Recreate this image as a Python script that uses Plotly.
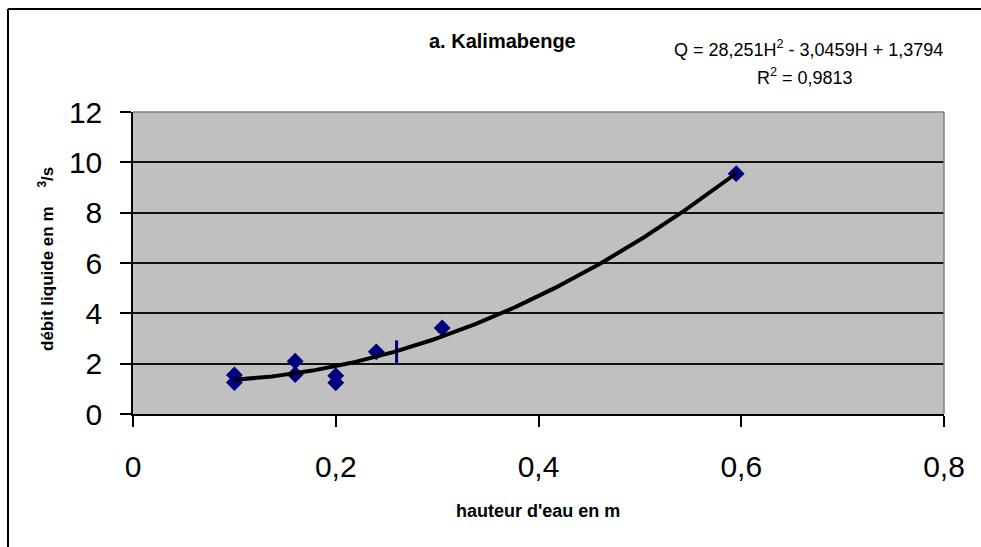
import numpy as np
import plotly.graph_objects as go

# Measured stage (m) and discharge (m3/s) at Kalimabenge
hauteur = [0.10, 0.10, 0.16, 0.16, 0.20, 0.20, 0.24, 0.305, 0.595]
debit = [1.25, 1.55, 2.10, 1.57, 1.52, 1.24, 2.47, 3.42, 9.55]

# Extra reading marked with a short vertical dash
hauteur_dash = [0.26]
debit_dash = [2.45]

# Quadratic rating curve coefficients
coef_a, coef_b, coef_c = 28.251, -3.0459, 1.3794
h_min, h_max = 0.10, 0.595

x_tickvals = [0, 0.2, 0.4, 0.6, 0.8]
x_ticktext = ["0", "0,2", "0,4", "0,6", "0,8"]
y_tickvals = [0, 2, 4, 6, 8, 10, 12]
y_ticktext = ["0", "2", "4", "6", "8", "10", "12"]

h_curve = np.linspace(h_min, h_max, 200)
q_curve = coef_a * h_curve**2 + coef_b * h_curve + coef_c

FONT = "Liberation Sans, Arial, sans-serif"
NAVY = "#000080"

# plot-area geometry in pixels
L, R, T, B = 133, 944, 112, 414
W, H = R - L, B - T


def px(xp):
    return (xp - L) / W


def py(yp):
    return (B - yp) / H


fig = go.Figure()
fig.add_trace(go.Scatter(
    x=hauteur, y=debit, mode="markers",
    marker=dict(symbol="diamond", size=13, color=NAVY, line=dict(width=0)),
    showlegend=False, cliponaxis=False,
))
fig.add_trace(go.Scatter(
    x=hauteur_dash, y=debit_dash, mode="markers",
    marker=dict(symbol="line-ns", size=17, color=NAVY, line=dict(width=3, color=NAVY)),
    showlegend=False,
))
fig.add_trace(go.Scatter(
    x=h_curve, y=q_curve, mode="lines",
    line=dict(color="black", width=4),
    showlegend=False,
))

fig.update_layout(
    width=981, height=547,
    margin=dict(l=L, r=981 - R, t=T, b=547 - B),
    paper_bgcolor="white",
    plot_bgcolor="#c0c0c0",
    font=dict(family=FONT, color="black"),
    xaxis=dict(
        range=[0, 0.8], tickvals=x_tickvals, ticktext=x_ticktext,
        showgrid=False, zeroline=False,
        showline=True, linecolor="black", linewidth=1.5,
        ticks="outside", ticklen=11, tickwidth=1.5, tickcolor="black",
        tickfont=dict(size=30, family=FONT), ticklabelstandoff=14,
    ),
    yaxis=dict(
        range=[0, 12], tickvals=y_tickvals, ticktext=y_ticktext,
        showgrid=True, gridcolor="#111111", gridwidth=1.5,
        zeroline=False,
        showline=True, linecolor="black", linewidth=1.5,
        ticks="outside", ticklen=11, tickwidth=1.5, tickcolor="black",
        tickfont=dict(size=30, family=FONT), ticklabelstandoff=12,
    ),
)

# Grey frame on the top and right of the plot area
fig.add_shape(type="line", xref="x domain", yref="y domain",
              x0=0, x1=1, y0=1, y1=1, line=dict(color="#808080", width=1.5), layer="above")
fig.add_shape(type="line", xref="x domain", yref="y domain",
              x0=1, x1=1, y0=0, y1=1, line=dict(color="#808080", width=1.5), layer="above")

# Chart-area border (top and left edges)
fig.add_shape(type="line", xref="paper", yref="paper",
              x0=px(8), x1=px(981), y0=py(9), y1=py(9), line=dict(color="black", width=2))
fig.add_shape(type="line", xref="paper", yref="paper",
              x0=px(8), x1=px(8), y0=py(9), y1=py(547), line=dict(color="black", width=2))

fig.add_annotation(
    text="<b>a. Kalimabenge</b>", xref="paper", yref="paper",
    x=px(502), y=py(41), xanchor="center", yanchor="middle",
    showarrow=False, font=dict(size=20, family=FONT),
)
fig.add_annotation(
    text="Q = 28,251H<sup>2</sup> - 3,0459H + 1,3794", xref="paper", yref="paper",
    x=px(808), y=py(48), xanchor="center", yanchor="middle",
    showarrow=False, font=dict(size=18, family=FONT),
)
fig.add_annotation(
    text="R<sup>2</sup> = 0,9813", xref="paper", yref="paper",
    x=px(805), y=py(77), xanchor="center", yanchor="middle",
    showarrow=False, font=dict(size=18, family=FONT),
)
fig.add_annotation(
    text="<b>hauteur d'eau en m</b>", xref="paper", yref="paper",
    x=px(538), y=py(511), xanchor="center", yanchor="middle",
    showarrow=False, font=dict(size=18, family=FONT),
)
fig.add_annotation(
    text="<b>débit liquide en m    <sup>3</sup>/s</b>", xref="paper", yref="paper",
    x=px(46), y=py(259), xanchor="center", yanchor="middle",
    textangle=-90, showarrow=False, font=dict(size=17, family=FONT),
)

fig.write_html("out.html", config=dict(displayModeBar=False))
